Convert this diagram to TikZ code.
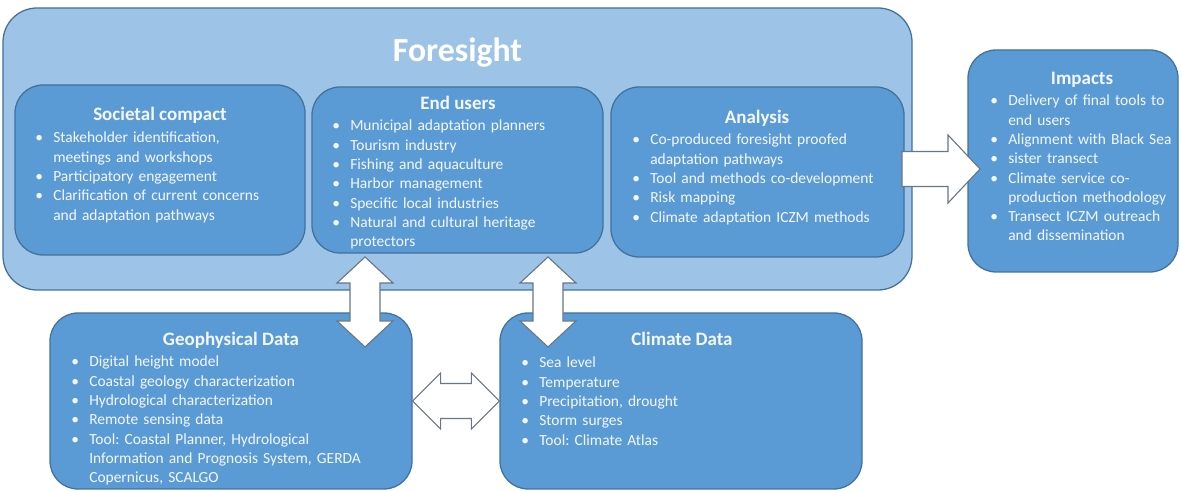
\documentclass[tikz,border=0pt]{standalone}
\usepackage{fontspec}
\setmainfont{Carlito}
\usepackage{tikz}
\usetikzlibrary{calc}
\frenchspacing
\definecolor{foreblue}{RGB}{157,195,230}
\definecolor{boxblue}{RGB}{91,155,213}
\definecolor{edgeblue}{RGB}{65,113,156}
\definecolor{arrowgray}{RGB}{105,118,134}
\definecolor{textwhite}{RGB}{244,247,251}
\newcommand{\itm}[1]{\hangindent=0.45cm\hangafter=1\noindent\makebox[0.45cm][l]{\textbullet}#1\par}
\def\dblarrow[#1](#2)(#3)(#4:#5:#6)% Syntax: [draw options] (tip a) (tip b) (shaft half width:head half width:head length)
{ \draw[#1] (#2) -- ($(#2)!#6!(#3)!#5!90:(#3)$) -- ($(#2)!#6!(#3)!#4!90:(#3)$) -- ($(#3)!#6!(#2)!#4!-90:(#2)$) -- ($(#3)!#6!(#2)!#5!-90:(#2)$) -- (#3) -- ($(#3)!#6!(#2)!#5!90:(#2)$) -- ($(#3)!#6!(#2)!#4!90:(#2)$) -- ($(#2)!#6!(#3)!#4!-90:(#3)$) -- ($(#2)!#6!(#3)!#5!-90:(#3)$) -- cycle; }
\def\onearrow[#1](#2)(#3)(#4:#5:#6)% Syntax: [draw options] (tail) (tip) (shaft half width:head half width:head length)
{ \draw[#1] ($(#2)!#4!90:(#3)$) -- ($(#3)!#6!(#2)!#4!-90:(#2)$) -- ($(#3)!#6!(#2)!#5!-90:(#2)$) -- (#3) -- ($(#3)!#6!(#2)!#5!90:(#2)$) -- ($(#3)!#6!(#2)!#4!90:(#2)$) -- ($(#2)!#4!-90:(#3)$) -- cycle; }
\tikzset{
	outerbox/.style={draw=edgeblue,line width=0.9pt,fill=foreblue,rounded corners=0.85cm,inner sep=0pt},
	innerbox/.style={draw=edgeblue,line width=0.9pt,fill=boxblue,rounded corners=0.7cm,inner sep=0pt},
	boxtitle/.style={anchor=base,inner sep=0pt,text=textwhite,font=\fontsize{13.5}{16}\selectfont\bfseries},
	boxlist/.style={anchor=base west,inner sep=0pt,text=textwhite,font=\fontsize{11}{13.7}\selectfont},
	fatarrow/.style={draw=arrowgray,line width=0.8pt,fill=white,line join=miter}
}
\begin{document}
\begin{tikzpicture}
	\useasboundingbox (0,0) rectangle (29.55,12.275);
	
	%foresight block
	\node[outerbox,minimum width=22.725cm,minimum height=7.05cm] (fore) at (11.4375,8.55) {};
	\node[anchor=base,inner sep=0pt,text=white,font=\fontsize{24}{28}\selectfont\bfseries] (foret) at (11.4375,10.725) {Foresight};
	
	\node[innerbox,minimum width=7.25cm,minimum height=4.25cm] (soc) at (4.0,8.025) {};
	\node[boxtitle] (soct) at (4.0,9.25) {Societal compact};
	\node[boxlist,text width=6.4cm] (socl) at (0.875,8.7) {\itm{Stakeholder identification,\newline meetings and workshops}\itm{Participatory engagement}\itm{Clarification of current concerns\newline and adaptation pathways}};
	
	\node[innerbox,minimum width=7.275cm,minimum height=4.15cm] (eu) at (11.4375,8.025) {};
	\node[boxtitle] (eut) at (11.45,9.525) {End users};
	\node[boxlist,text width=6.5cm] (eul) at (8.3,9.0) {\itm{Municipal adaptation planners}\itm{Tourism industry}\itm{Fishing and aquaculture}\itm{Harbor management}\itm{Specific local industries}\itm{Natural and cultural heritage\newline protectors}};
	
	\node[innerbox,minimum width=7.325cm,minimum height=4.25cm] (ana) at (18.9375,7.975) {};
	\node[boxtitle] (anat) at (18.925,9.175) {Analysis};
	\node[boxlist,text width=6.6cm] (anal) at (15.8,8.65) {\itm{Co-produced foresight proofed\newline adaptation pathways}\itm{Tool and methods co-development}\itm{Risk mapping}\itm{Climate adaptation ICZM methods}};
	
	%impacts
	\node[innerbox,minimum width=5.25cm,minimum height=5.55cm] (imp) at (26.825,8.25) {};
	\node[boxtitle] (impt) at (27.05,10.15) {Impacts};
	\node[boxlist,text width=4.65cm] (impl) at (24.75,9.625) {\itm{Delivery of final tools to\newline end users}\itm{Alignment with Black Sea}\itm{sister transect}\itm{Climate service co-\newline production methodology}\itm{Transect ICZM outreach\newline and dissemination}};
	
	%data blocks
	\node[innerbox,minimum width=9.05cm,minimum height=4.4cm] (geo) at (5.775,2.25) {};
	\node[boxtitle] (geot) at (5.775,3.63) {Geophysical Data};
	\node[boxlist,text width=8.2cm] (geol) at (1.775,3.1) {\itm{Digital height model}\itm{Coastal geology characterization}\itm{Hydrological characterization}\itm{Remote sensing data}\itm{Tool: Coastal Planner, Hydrological\newline Information and Prognosis System, GERDA\newline Copernicus, SCALGO}};
	
	\node[innerbox,minimum width=9.05cm,minimum height=4.4cm] (clim) at (17.025,2.25) {};
	\node[boxtitle] (climt) at (17.05,3.625) {Climate Data};
	\node[boxlist,text width=6.5cm] (climl) at (13.025,3.075) {\itm{Sea level}\itm{Temperature}\itm{Precipitation, drought}\itm{Storm surges}\itm{Tool: Climate Atlas}};
	
	%arrows
	\coordinate (up1) at (9.125,5.85);
	\coordinate (down1) at (9.125,3.6);
	\coordinate (up2) at (13.7,5.85);
	\coordinate (down2) at (13.7,3.6);
	\coordinate (foreout) at (22.55,8.05);
	\coordinate (impin) at (24.5,8.05);
	\dblarrow[fatarrow](up1)(down1)(0.375cm:0.7cm:0.65cm)		%end users - geophysical
	\dblarrow[fatarrow](up2)(down2)(0.375cm:0.7cm:0.65cm)		%end users - climate
	\dblarrow[fatarrow](geo.east)(clim.west)(0.4375cm:0.7cm:0.7cm)	%geophysical - climate
	\onearrow[fatarrow](foreout)(impin)(0.4375cm:0.85cm:0.8cm)	%foresight - impacts
\end{tikzpicture}
\end{document}
